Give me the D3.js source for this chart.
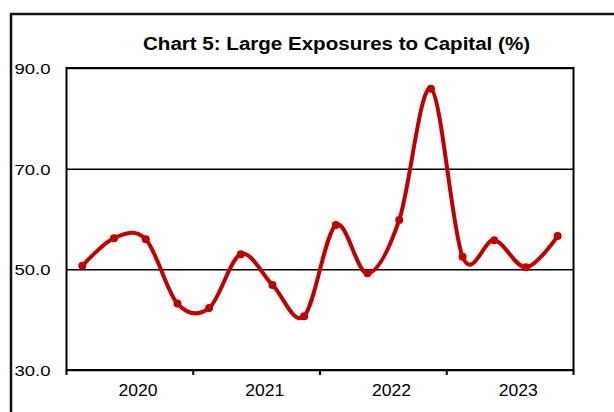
<!DOCTYPE html>
<html lang="en">
    <head>
        <meta charset="utf-8">
        <title>Chart 5</title>
        <script type="text/javascript" src="https://cdn.jsdelivr.net/npm/d3@7/dist/d3.min.js"></script>
        <style>
            body { margin: 0; background: #fff; }
            text { font-family: "Liberation Sans", Arial, sans-serif; fill: #000; }
        </style>
    </head>

    <body>
        <script type="text/javascript">

            // quarterly values, 2020 Q1 .. 2023 Q4
            var quarters = ["2020Q1", "2020Q2", "2020Q3", "2020Q4",
                            "2021Q1", "2021Q2", "2021Q3", "2021Q4",
                            "2022Q1", "2022Q2", "2022Q3", "2022Q4",
                            "2023Q1", "2023Q2", "2023Q3", "2023Q4"];
            var values = [50.7, 56.2, 56.0, 43.2, 42.3, 53.0, 46.9, 40.7,
                          58.8, 49.2, 59.8, 85.9, 52.5, 55.8, 50.4, 56.6];
            var years = ["2020", "2021", "2022", "2023"];
            var y_ticks = [30, 50, 70, 90];

            var width = 614, height = 412;
            var plot_left = 66.5, plot_right = 573.5, plot_top = 68, plot_bottom = 370;

            var svg = d3.select("body")
                .append("svg")
                .attr("width", width)
                .attr("height", height);

            // outer frame (only left and top edges visible)
            svg.append("path")
                .attr("d", "M11,420 L11,14 L620,14")
                .attr("fill", "none")
                .attr("stroke", "#111")
                .attr("stroke-width", 2.5);

            svg.append("text")
                .attr("x", 336.5)
                .attr("y", 50)
                .attr("text-anchor", "middle")
                .attr("textLength", 387)
                .attr("lengthAdjust", "spacingAndGlyphs")
                .style("font-size", "17.5px")
                .style("font-weight", "bold")
                .text("Chart 5: Large Exposures to Capital (%)");

            var x = d3.scaleBand()
                .domain(quarters)
                .range([plot_left, plot_right]);

            var x_year = d3.scaleBand()
                .domain(years)
                .range([plot_left, plot_right]);

            var y = d3.scaleLinear()
                .domain([30, 90])
                .range([plot_bottom, plot_top]);

            // horizontal gridlines + labels
            var y_axis = svg.append("g")
                .attr("transform", "translate(" + plot_left + ",0)")
                .call(d3.axisLeft(y)
                    .tickValues(y_ticks)
                    .tickFormat(d3.format(".1f"))
                    .tickSize(-(plot_right - plot_left))
                    .tickPadding(16));
            y_axis.select(".domain").remove();
            y_axis.selectAll("line")
                .attr("stroke", "#000")
                .attr("stroke-width", 1.5);
            y_axis.selectAll("text")
                .style("font-size", "15px")
                .attr("textLength", 36)
                .attr("lengthAdjust", "spacingAndGlyphs")
                .attr("dy", "0.36em");

            // plot border
            svg.append("rect")
                .attr("x", plot_left)
                .attr("y", plot_top)
                .attr("width", plot_right - plot_left)
                .attr("height", plot_bottom - plot_top)
                .attr("fill", "none")
                .attr("stroke", "#000")
                .attr("stroke-width", 2);

            // year ticks on the x axis
            var bounds = years.map(function(d) { return x_year(d); }).concat([plot_right]);
            svg.append("g")
                .selectAll("line")
                .data(bounds)
                .enter()
                .append("line")
                .attr("x1", function(d) { return d; })
                .attr("x2", function(d) { return d; })
                .attr("y1", plot_bottom)
                .attr("y2", plot_bottom + 5)
                .attr("stroke", "#000")
                .attr("stroke-width", 2);

            svg.append("g")
                .selectAll("text")
                .data(years)
                .enter()
                .append("text")
                .attr("x", function(d) { return x_year(d) + x_year.bandwidth() / 2 + 8; })
                .attr("y", 396)
                .attr("text-anchor", "middle")
                .attr("textLength", 39)
                .attr("lengthAdjust", "spacingAndGlyphs")
                .style("font-size", "16px")
                .text(function(d) { return d; });

            // smoothed series line
            var line = d3.line()
                .x(function(d, i) { return x(quarters[i]) + x.bandwidth() / 2; })
                .y(function(d) { return y(d); })
                .curve(d3.curveCatmullRom.alpha(0));

            svg.append("path")
                .datum(values)
                .attr("d", line)
                .attr("fill", "none")
                .attr("stroke", "#c00000")
                .attr("stroke-width", 4)
                .attr("stroke-linejoin", "round");

            svg.append("g")
                .selectAll("circle")
                .data(values)
                .enter()
                .append("circle")
                .attr("cx", function(d, i) { return x(quarters[i]) + x.bandwidth() / 2; })
                .attr("cy", function(d) { return y(d); })
                .attr("r", 4)
                .attr("fill", "#c00000");
        </script>
    </body>
</html>
